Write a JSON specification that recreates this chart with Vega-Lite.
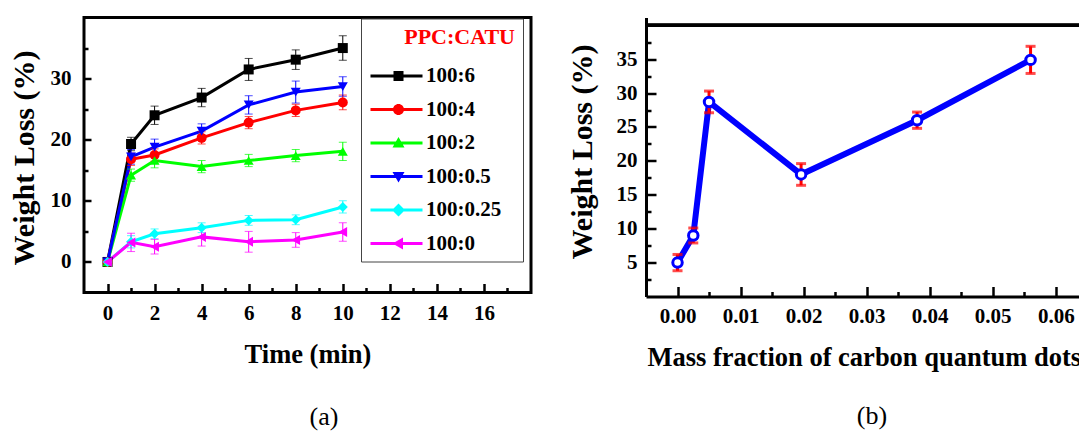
{
  "$schema": "https://vega.github.io/schema/vega-lite/v6.json",
  "background": "white",
  "padding": {"left": 7, "top": 15.5, "right": 0, "bottom": 0},
  "bounds": "flush",
  "spacing": 115,
  "config": {
    "view": {"stroke": null},
    "font": "Liberation Serif",
    "axis": {
      "labelFont": "Liberation Serif", "labelFontSize": 21, "labelFontWeight": "bold", "labelColor": "black",
      "titleFont": "Liberation Serif", "titleFontSize": 26.5, "titleFontWeight": "bold", "titleColor": "black",
      "tickColor": "black", "tickWidth": 2.5, "grid": false, "labelOverlap": false, "labelFlush": false
    }
  },
  "datasets": {
    "timeSeries": [
      {"s": "100:6", "t": 0, "v": 0, "e": 0},
      {"s": "100:6", "t": 1, "v": 19.3, "e": 1.1},
      {"s": "100:6", "t": 2, "v": 24.0, "e": 1.5},
      {"s": "100:6", "t": 4, "v": 26.9, "e": 1.5},
      {"s": "100:6", "t": 6, "v": 31.5, "e": 1.8},
      {"s": "100:6", "t": 8, "v": 33.1, "e": 1.6},
      {"s": "100:6", "t": 10, "v": 35.0, "e": 2.0},
      {"s": "100:4", "t": 0, "v": 0, "e": 0},
      {"s": "100:4", "t": 1, "v": 16.8, "e": 1.0},
      {"s": "100:4", "t": 2, "v": 17.5, "e": 1.0},
      {"s": "100:4", "t": 4, "v": 20.3, "e": 1.0},
      {"s": "100:4", "t": 6, "v": 22.8, "e": 1.0},
      {"s": "100:4", "t": 8, "v": 24.8, "e": 1.0},
      {"s": "100:4", "t": 10, "v": 26.1, "e": 1.2},
      {"s": "100:2", "t": 0, "v": 0, "e": 0},
      {"s": "100:2", "t": 1, "v": 14.2, "e": 1.0},
      {"s": "100:2", "t": 2, "v": 16.6, "e": 1.2},
      {"s": "100:2", "t": 4, "v": 15.6, "e": 1.0},
      {"s": "100:2", "t": 6, "v": 16.6, "e": 1.0},
      {"s": "100:2", "t": 8, "v": 17.4, "e": 1.0},
      {"s": "100:2", "t": 10, "v": 18.1, "e": 1.5},
      {"s": "100:0.5", "t": 0, "v": 0, "e": 0},
      {"s": "100:0.5", "t": 1, "v": 17.2, "e": 1.2},
      {"s": "100:0.5", "t": 2, "v": 18.8, "e": 1.3},
      {"s": "100:0.5", "t": 4, "v": 21.4, "e": 1.2},
      {"s": "100:0.5", "t": 6, "v": 25.7, "e": 1.5},
      {"s": "100:0.5", "t": 8, "v": 27.8, "e": 1.8},
      {"s": "100:0.5", "t": 10, "v": 28.7, "e": 1.6},
      {"s": "100:0.25", "t": 0, "v": 0, "e": 0},
      {"s": "100:0.25", "t": 1, "v": 3.3, "e": 1.0},
      {"s": "100:0.25", "t": 2, "v": 4.6, "e": 0.8},
      {"s": "100:0.25", "t": 4, "v": 5.6, "e": 0.8},
      {"s": "100:0.25", "t": 6, "v": 6.8, "e": 0.8},
      {"s": "100:0.25", "t": 8, "v": 6.9, "e": 0.8},
      {"s": "100:0.25", "t": 10, "v": 9.0, "e": 1.0},
      {"s": "100:0", "t": 0, "v": 0, "e": 0},
      {"s": "100:0", "t": 1, "v": 3.2, "e": 1.5},
      {"s": "100:0", "t": 2, "v": 2.5, "e": 1.2},
      {"s": "100:0", "t": 4, "v": 4.1, "e": 1.5},
      {"s": "100:0", "t": 6, "v": 3.3, "e": 1.7},
      {"s": "100:0", "t": 8, "v": 3.6, "e": 1.2},
      {"s": "100:0", "t": 10, "v": 4.9, "e": 1.5}
    ],
    "massSeries": [
      {"m": 0, "v": 5.0, "e": 1.2},
      {"m": 0.0025, "v": 9.0, "e": 1.1},
      {"m": 0.005, "v": 28.7, "e": 1.6},
      {"m": 0.0196, "v": 18.0, "e": 1.6},
      {"m": 0.038, "v": 26.0, "e": 1.2},
      {"m": 0.056, "v": 34.9, "e": 2.0}
    ]
  },
  "hconcat": [
    {
      "width": 447,
      "height": 275,
      "view": {"stroke": "black", "strokeWidth": 3},
      "title": {"text": "(a)", "orient": "bottom", "frame": "group", "anchor": "middle", "offset": 36, "dx": 16.5, "font": "Liberation Serif", "fontSize": 26, "fontWeight": "normal", "color": "black"},
      "data": {"name": "timeSeries"},
      "encoding": {
        "x": {"field": "t", "type": "quantitative", "scale": {"domain": [-1, 18], "nice": false, "zero": false},
          "axis": {"values": [0,1,2,3,4,5,6,7,8,9,10,11,12,13,14,15,16,17], "domain": false,
            "labelExpr": "datum.value % 2 === 0 ? datum.label : ''",
            "tickSize": {"condition": {"test": "datum.value % 2 === 0", "value": -9}, "value": -5},
            "labelPadding": 19, "title": "Time (min)", "titleY": 70, "titleBaseline": "alphabetic"}},
        "y": {"field": "v", "type": "quantitative", "scale": {"domain": [-5, 40], "nice": false, "zero": false},
          "axis": {"values": [0,5,10,15,20,25,30,35], "domain": false,
            "labelExpr": "datum.value % 10 === 0 ? datum.label : ''",
            "tickSize": {"condition": {"test": "datum.value % 10 === 0", "value": -7}, "value": -4},
            "labelPadding": 20, "title": "Weight Loss (%)", "titleFontSize": 30, "titleX": -45, "titleY": 140}}
      },
      "resolve": {"scale": {"shape": "independent", "fill": "independent"}, "legend": {"shape": "independent", "fill": "independent"}},
      "layer": [
        {
          "mark": {"type": "line", "strokeWidth": 3},
          "encoding": {"color": {"field": "s", "type": "nominal", "legend": null,
            "scale": {"domain": ["100:6","100:4","100:2","100:0.5","100:0.25","100:0"], "range": ["#000000","#ff0000","#00ff00","#0000ff","#00ffff","#ff00ff"]}}}
        },
        {
          "transform": [{"filter": "datum.e > 0"}],
          "mark": {"type": "errorbar", "ticks": true, "size": 8, "thickness": 1},
          "encoding": {"yError": {"field": "e"}, "color": {"field": "s", "type": "nominal", "legend": null}}
        },
        {
          "mark": {"type": "point", "filled": true, "size": 100, "opacity": 1},
          "encoding": {
            "color": {"field": "s", "type": "nominal", "legend": null},
            "shape": {"field": "s", "type": "nominal", "legend": null,
              "scale": {"domain": ["100:6","100:4","100:2","100:0.5","100:0.25","100:0"], "range": ["square","circle","triangle-up","triangle-down","diamond","triangle-left"]}}
          }
        },
        {
          "mark": {"type": "point", "filled": true, "opacity": 0, "size": 100},
          "encoding": {
            "fill": {"field": "s", "type": "nominal",
              "scale": {"domain": ["100:6","100:4","100:2","100:0.5","100:0.25","100:0"], "range": ["#000000","#ff0000","#00ff00","#0000ff","#00ffff","#ff00ff"]},
              "legend": {"title": "PPC:CATU", "orient": "none", "legendX": 277, "legendY": 1, "padding": 8, "strokeColor": "#444444", "fillColor": "white",
                "titleColor": "#ff0000", "titleFont": "Liberation Serif", "titleFontSize": 22, "titleFontWeight": "bold", "titleAnchor": "end", "titlePadding": 17,
                "labelFont": "Liberation Serif", "labelFontSize": 21, "labelFontWeight": "bold", "labelColor": "black", "labelOffset": 40,
                "rowPadding": 11.5, "symbolSize": 100, "symbolOffset": -4, "symbolStrokeWidth": 0, "symbolOpacity": 1}},
            "shape": {"field": "s", "type": "nominal",
              "scale": {"domain": ["100:6","100:4","100:2","100:0.5","100:0.25","100:0"],
                "range": [
                  "M-1,-0.3H3.6V-1H5.6V-0.3H9.4V0.3H5.6V1H3.6V0.3H-1Z M27.8,0L27.8,0.01Z",
                  "M-1,-0.3H9.4V0.3H-1Z M5.7,0A1.1,1.1,0,1,1,3.5,0A1.1,1.1,0,1,1,5.7,0Z M27.8,0L27.8,0.01Z",
                  "M-1,-0.3H9.4V0.3H-1Z M4.6,-1.2L5.8,0.9L3.4,0.9Z M27.8,0L27.8,0.01Z",
                  "M-1,-0.3H9.4V0.3H-1Z M3.4,-0.9L5.8,-0.9L4.6,1.2Z M27.8,0L27.8,0.01Z",
                  "M-1,-0.3H9.4V0.3H-1Z M4.6,-1.3L5.9,0L4.6,1.3L3.3,0Z M27.8,0L27.8,0.01Z",
                  "M-1,-0.3H9.4V0.3H-1Z M3.4,0L5.5,-1.2L5.5,1.2Z M27.8,0L27.8,0.01Z"
                ]},
              "legend": {"title": "PPC:CATU", "orient": "none", "legendX": 277, "legendY": 1, "padding": 8, "strokeColor": "#444444", "fillColor": "white",
                "titleColor": "#ff0000", "titleFont": "Liberation Serif", "titleFontSize": 22, "titleFontWeight": "bold", "titleAnchor": "end", "titlePadding": 17,
                "labelFont": "Liberation Serif", "labelFontSize": 21, "labelFontWeight": "bold", "labelColor": "black", "labelOffset": 40,
                "rowPadding": 11.5, "symbolSize": 100, "symbolOffset": -4, "symbolStrokeWidth": 0, "symbolOpacity": 1}}
          }
        }
      ]
    },
    {
      "width": 435,
      "height": 279,
      "title": {"text": "(b)", "orient": "bottom", "frame": "group", "anchor": "middle", "offset": 32, "dx": 8.5, "font": "Liberation Serif", "fontSize": 26, "fontWeight": "normal", "color": "black"},
      "data": {"name": "massSeries"},
      "encoding": {
        "x": {"field": "m", "type": "quantitative", "scale": {"domain": [-0.005, 0.064], "nice": false, "zero": false},
          "axis": {"values": [0,0.005,0.01,0.015,0.02,0.025,0.03,0.035,0.04,0.045,0.05,0.055,0.06],
            "format": ".2f", "domain": true, "domainColor": "black", "domainWidth": 3,
            "labelExpr": "abs(datum.value*100 - round(datum.value*100)) < 0.001 ? datum.label : ''",
            "tickSize": {"condition": {"test": "abs(datum.value*100 - round(datum.value*100)) < 0.001", "value": -10}, "value": -5},
            "labelPadding": 19, "title": "Mass fraction of carbon quantum dots", "titleX": 1, "titleY": 69, "titleAlign": "left", "titleAnchor": "start", "titleBaseline": "alphabetic"}},
        "y": {"field": "v", "type": "quantitative", "scale": {"domain": [0, 41.15], "nice": false, "zero": false},
          "axis": {"values": [2.5,5,7.5,10,12.5,15,17.5,20,22.5,25,27.5,30,32.5,35,37.5],
            "domain": true, "domainColor": "black", "domainWidth": 3,
            "labelExpr": "datum.value % 5 === 0 ? datum.label : ''",
            "tickSize": {"condition": {"test": "datum.value % 5 === 0", "value": -10}, "value": -5},
            "labelPadding": 19, "title": "Weight Loss (%)", "titleFontSize": 30, "titleX": -49, "titleY": 134}}
      },
      "layer": [
        {
          "mark": {"type": "rule", "strokeWidth": 3, "color": "black"},
          "encoding": {"y": {"datum": 40, "type": "quantitative"}, "x": null}
        },
        {
          "mark": {"type": "line", "strokeWidth": 6, "color": "#0000ff"},
          "encoding": {}
        },
        {
          "mark": {"type": "errorbar", "ticks": true, "size": 10, "thickness": 3, "color": "#ff0000"},
          "encoding": {"yError": {"field": "e"}}
        },
        {
          "mark": {"type": "point", "shape": "circle", "filled": true, "fill": "white", "stroke": "#0000ff", "strokeWidth": 3, "size": 90, "opacity": 1},
          "encoding": {}
        }
      ]
    }
  ]
}
